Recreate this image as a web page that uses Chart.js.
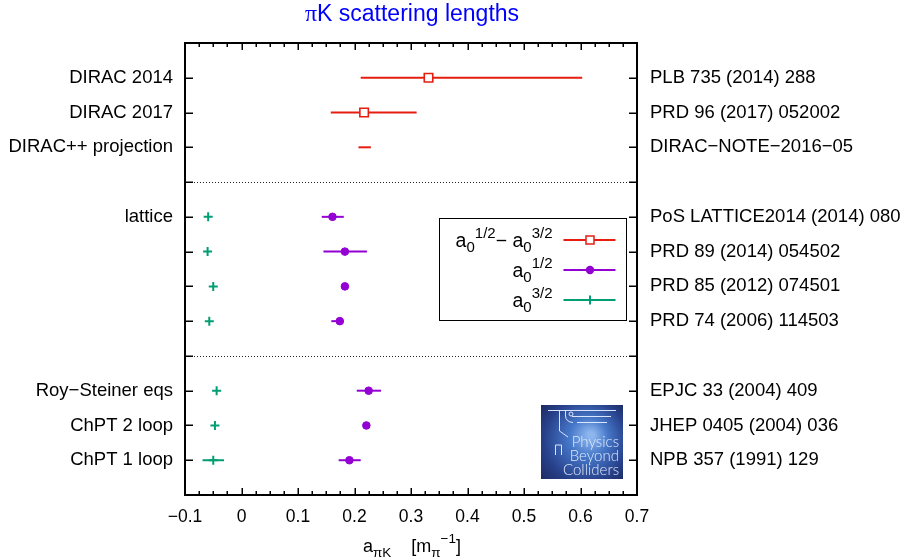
<!DOCTYPE html>
<html>
<head>
<meta charset="utf-8">
<script src="https://cdn.jsdelivr.net/npm/chart.js@4.4.1/dist/chart.umd.min.js"></script>
<style>
  html, body { margin: 0; padding: 0; background: #fff; }
  canvas { display: block; }
</style>
</head>
<body>
<canvas id="chart" width="909" height="560"></canvas>
<script>
// ==================== DATA ====================
const xTickValues = [-0.1, 0, 0.1, 0.2, 0.3, 0.4, 0.5, 0.6, 0.7];
const rowTicks = [1, 2, 3, 4, 5, 6, 7, 8, 9, 10, 11, 12];
const separatorRows = [4, 9];

const labelRows = [1, 2, 3, 5, 6, 7, 8, 10, 11, 12];
const leftLabels = ["DIRAC 2014", "DIRAC 2017", "DIRAC++ projection", "lattice", "", "", "",
                    "Roy\u2212Steiner eqs", "ChPT 2 loop", "ChPT 1 loop"];
const rightLabels = ["PLB 735 (2014) 288", "PRD 96 (2017) 052002", "DIRAC\u2212NOTE\u22122016\u221205",
                     "PoS LATTICE2014 (2014) 080", "PRD 89 (2014) 054502", "PRD 85 (2012) 074501",
                     "PRD 74 (2006) 114503", "EPJC 33 (2004) 409", "JHEP 0405 (2004) 036",
                     "NPB 357 (1991) 129"];

// a0^1/2 - a0^3/2 (DIRAC)
const diffRows = [1, 2, 3];
const diffVal = [0.331, 0.217, 0.218];
const diffLo = [0.211, 0.158, 0.207];
const diffHi = [0.603, 0.310, 0.229];
const diffMarker = [true, true, false];

// a0^1/2
const halfRows = [5, 6, 7, 8, 10, 11, 12];
const halfVal = [0.161, 0.183, 0.183, 0.174, 0.225, 0.221, 0.191];
const halfLo = [0.142, 0.145, 0.183, 0.159, 0.204, 0.221, 0.172];
const halfHi = [0.181, 0.222, 0.183, 0.178, 0.247, 0.221, 0.211];

// a0^3/2
const threeRows = [5, 6, 7, 8, 10, 11, 12];
const threeVal = [-0.059, -0.060, -0.050, -0.057, -0.044, -0.047, -0.050];
const threeLo = [-0.059, -0.060, -0.050, -0.057, -0.044, -0.047, -0.069];
const threeHi = [-0.059, -0.060, -0.050, -0.057, -0.044, -0.047, -0.031];

const RED = "#e51e10";
const PURPLE = "#9400d3";
const GREEN = "#009e73";
const FONT = "'Liberation Sans', Arial, Helvetica, sans-serif";

const series = [
    { rows: diffRows, val: diffVal, lo: diffLo, hi: diffHi, color: RED },
    { rows: halfRows, val: halfVal, lo: halfLo, hi: halfHi, color: PURPLE },
    { rows: threeRows, val: threeVal, lo: threeLo, hi: threeHi, color: GREEN },
];

// ==================== HELPERS ====================
function fmtTick(v) {
    const r = Math.round(v * 10) / 10;
    if (r === 0) return "0";
    return r < 0 ? "\u2212" + Math.abs(r) : String(r);
}

function rowLabel(list, value) {
    const i = labelRows.indexOf(Math.round(value));
    return i >= 0 ? list[i] : "";
}

// segs: [{t, size, dy, family}]
function richWidth(ctx, segs) {
    let w = 0;
    for (const s of segs) {
        ctx.font = `${s.size}px ${s.family || FONT}`;
        w += ctx.measureText(s.t).width;
    }
    return w;
}

function drawRich(ctx, segs, left, base, align) {
    const w = richWidth(ctx, segs);
    if (align === "right") left -= w;
    if (align === "center") left -= w / 2;
    ctx.textAlign = "left";
    ctx.textBaseline = "alphabetic";
    for (const s of segs) {
        ctx.font = `${s.size}px ${s.family || FONT}`;
        ctx.fillText(s.t, left, base + (s.dy || 0));
        left += ctx.measureText(s.t).width;
    }
}

// ==================== PLUGINS ====================
const errorBars = {
    id: "errorBars",
    beforeDatasetsDraw(chart) {
        const ctx = chart.ctx;
        const a = chart.chartArea;
        const xs = chart.scales.x;
        const ys = chart.scales.y;
        ctx.save();
        // dotted separators
        ctx.strokeStyle = "#222";
        ctx.lineWidth = 1;
        ctx.setLineDash([1, 2]);
        for (const r of separatorRows) {
            const py = Math.round(ys.getPixelForValue(r)) + 0.5;
            ctx.beginPath();
            ctx.moveTo(a.left, py);
            ctx.lineTo(a.right, py);
            ctx.stroke();
        }
        ctx.setLineDash([]);
        // horizontal error bars
        ctx.lineWidth = 2;
        for (const s of series) {
            ctx.strokeStyle = s.color;
            s.rows.forEach((r, i) => {
                if (s.hi[i] <= s.lo[i]) return;
                const py = ys.getPixelForValue(r);
                ctx.beginPath();
                ctx.moveTo(xs.getPixelForValue(s.lo[i]), py);
                ctx.lineTo(xs.getPixelForValue(s.hi[i]), py);
                ctx.stroke();
            });
        }
        ctx.restore();
    },
};

const borderTicks = {
    id: "borderTicks",
    afterDraw(chart) {
        const ctx = chart.ctx;
        const a = chart.chartArea;
        const xs = chart.scales.x;
        const ys = chart.scales.y;
        ctx.save();
        ctx.globalAlpha = 1;
        ctx.fillStyle = "#000000";

        // x ticks (major + 3 minor), bottom and top, as 1px filled bars
        for (let i = 0; i < xTickValues.length; i++) {
            const px = Math.round(xs.getPixelForValue(xTickValues[i]));
            ctx.fillRect(px - 0.5, a.bottom - 7, 1.5, 7);
            ctx.fillRect(px - 0.5, a.top, 1.5, 7);
            if (i < xTickValues.length - 1) {
                const step = (xTickValues[i + 1] - xTickValues[i]) / 4;
                for (let k = 1; k < 4; k++) {
                    const pm = Math.round(xs.getPixelForValue(xTickValues[i] + k * step));
                    ctx.fillRect(pm - 0.5, a.bottom - 4, 1.5, 4);
                    ctx.fillRect(pm - 0.5, a.top, 1.5, 4);
                }
            }
        }

        // y ticks, left and right
        for (const r of rowTicks) {
            const py = Math.round(ys.getPixelForValue(r));
            ctx.fillRect(a.left, py - 0.5, 8, 1.5);
            ctx.fillRect(a.right - 8, py - 0.5, 8, 1.5);
        }

        // border
        ctx.strokeStyle = "#000000";
        ctx.setLineDash([]);
        ctx.lineWidth = 2;
        ctx.strokeRect(a.left, a.top, a.right - a.left, a.bottom - a.top);
        ctx.restore();
    },
};

const decorations = {
    id: "decorations",
    afterDraw(chart) {
        const ctx = chart.ctx;
        const a = chart.chartArea;
        ctx.save();

        // title
        ctx.fillStyle = "#0000ff";
        drawRich(ctx, [
            { t: "\u03c0", size: 24, family: "'Liberation Serif', serif" },
            { t: "K scattering lengths", size: 23 },
        ], (a.left + a.right) / 2 + 1, 20.5, "center");

        // x axis title
        ctx.fillStyle = "#000";
        drawRich(ctx, [
            { t: "a", size: 18 },
            { t: "\u03c0K", size: 13.5, dy: 5.5 },
            { t: "    [m", size: 18 },
            { t: "\u03c0", size: 13.5, dy: 5.5 },
            { t: "\u22121", size: 13.5, dy: -9 },
            { t: "]", size: 18 },
        ], (a.left + a.right) / 2 + 1, 551.5, "center");

        // legend
        const lg = { left: 439.5, top: 218.5, right: 626.5, bottom: 320.5 };
        ctx.fillStyle = "#fff";
        ctx.fillRect(lg.left, lg.top, lg.right - lg.left, lg.bottom - lg.top);
        ctx.strokeStyle = "#000";
        ctx.lineWidth = 1;
        ctx.strokeRect(lg.left, lg.top, lg.right - lg.left, lg.bottom - lg.top);
        const legendRows = [
            { y: 240, color: RED, style: "rect", segs: [
                { t: "a", size: 19.5 }, { t: "0", size: 15, dy: 5 }, { t: "1/2", size: 15, dy: -8.5 },
                { t: "\u2212 a", size: 19.5 }, { t: "0", size: 15, dy: 5 }, { t: "3/2", size: 15, dy: -8.5 }] },
            { y: 270, color: PURPLE, style: "circle", segs: [
                { t: "a", size: 19.5 }, { t: "0", size: 15, dy: 5 }, { t: "1/2", size: 15, dy: -8.5 }] },
            { y: 300, color: GREEN, style: "cross", segs: [
                { t: "a", size: 19.5 }, { t: "0", size: 15, dy: 5 }, { t: "3/2", size: 15, dy: -8.5 }] },
        ];
        for (const row of legendRows) {
            ctx.fillStyle = "#000";
            drawRich(ctx, row.segs, 552.5, row.y + 6.5, "right");
            ctx.strokeStyle = row.color;
            ctx.lineWidth = 2;
            ctx.beginPath();
            ctx.moveTo(563.5, row.y);
            ctx.lineTo(615.5, row.y);
            ctx.stroke();
            if (row.style === "rect") {
                ctx.fillStyle = "#fff";
                ctx.lineWidth = 1.5;
                ctx.fillRect(586, row.y - 4, 8, 8);
                ctx.strokeRect(586, row.y - 4, 8, 8);
            } else if (row.style === "circle") {
                ctx.fillStyle = row.color;
                ctx.beginPath();
                ctx.arc(590, row.y, 4.2, 0, Math.PI * 2);
                ctx.fill();
            } else {
                ctx.beginPath();
                ctx.moveTo(590, row.y - 4.5);
                ctx.lineTo(590, row.y + 4.5);
                ctx.stroke();
            }
        }

        // Physics Beyond Colliders logo
        const lx = 541, ly = 405, lw = 82, lh = 74;
        const grad = ctx.createRadialGradient(lx + 50, ly + 30, 3, lx + 42, ly + 38, 58);
        grad.addColorStop(0, "#8cb6ee");
        grad.addColorStop(0.3, "#4677c8");
        grad.addColorStop(0.7, "#27408a");
        grad.addColorStop(1, "#1b285c");
        ctx.fillStyle = grad;
        ctx.fillRect(lx, ly, lw, lh);
        ctx.strokeStyle = "rgba(225,236,255,0.95)";
        ctx.lineWidth = 1;
        ctx.beginPath();
        ctx.moveTo(lx + 7, ly + 5.5); ctx.lineTo(lx + 75, ly + 5.5);
        ctx.moveTo(lx + 31, ly + 11.5); ctx.lineTo(lx + 70, ly + 11.5);
        ctx.moveTo(lx + 36, ly + 17.5); ctx.lineTo(lx + 66, ly + 17.5);
        ctx.moveTo(lx + 18.5, ly + 5.5); ctx.lineTo(lx + 18.5, ly + 26);
        ctx.moveTo(lx + 24.5, ly + 5.5); ctx.lineTo(lx + 24.5, ly + 11);
        ctx.quadraticCurveTo(lx + 25, ly + 17, lx + 32, ly + 17.5);
        ctx.moveTo(lx + 18.5, ly + 26); ctx.lineTo(lx + 27, ly + 32);
        ctx.moveTo(lx + 14.5, ly + 40); ctx.lineTo(lx + 14.5, ly + 50);
        ctx.moveTo(lx + 14.5, ly + 40); ctx.lineTo(lx + 20.5, ly + 40); ctx.lineTo(lx + 20.5, ly + 50);
        ctx.stroke();
        ctx.beginPath();
        ctx.arc(lx + 30, ly + 9, 2, 0, Math.PI * 2);
        ctx.stroke();
        ctx.fillStyle = "rgba(232,240,255,0.95)";
        ctx.textAlign = "right";
        ctx.textBaseline = "alphabetic";
        ctx.font = "300 15px Lato, 'Open Sans', sans-serif";
        ctx.fillText("Physics", lx + 78, ly + 42);
        ctx.fillText("Beyond", lx + 78, ly + 56);
        ctx.fillText("Colliders", lx + 78, ly + 70);

        ctx.restore();
    },
};

// ==================== CHART ====================
const datasets = [
    {
        label: "a0^1/2 - a0^3/2",
        data: diffRows.map((r, i) => ({ x: diffVal[i], y: r })),
        pointStyle: "rect",
        pointRadius: diffMarker.map(m => (m ? 6 : 0)),
        borderColor: RED,
        backgroundColor: "#ffffff",
        borderWidth: 1.6,
    },
    {
        label: "a0^1/2",
        data: halfRows.map((r, i) => ({ x: halfVal[i], y: r })),
        pointStyle: "circle",
        pointRadius: 3.8,
        borderColor: PURPLE,
        backgroundColor: PURPLE,
        borderWidth: 1,
    },
    {
        label: "a0^3/2",
        data: threeRows.map((r, i) => ({ x: threeVal[i], y: r })),
        pointStyle: "cross",
        pointRadius: 4.5,
        borderColor: GREEN,
        backgroundColor: GREEN,
        borderWidth: 2,
    },
];

const yAxis = (position, list, pad, width) => ({
    type: "linear",
    position,
    min: 0,
    max: 13,
    reverse: true,
    afterBuildTicks: (scale) => { scale.ticks = rowTicks.map(v => ({ value: v })); },
    afterFit: (scale) => { scale.width = width; },
    grid: { display: false, drawTicks: false },
    border: { display: false },
    ticks: {
        autoSkip: false,
        padding: pad,
        color: "#000",
        font: { family: FONT, size: 18.5 },
        callback: (v) => rowLabel(list, v),
    },
});

new Chart(document.getElementById("chart"), {
    type: "scatter",
    data: { datasets },
    options: {
        responsive: false,
        animation: false,
        events: [],
        layout: { padding: { top: 43, left: 0, right: 0, bottom: 0 } },
        plugins: {
            legend: { display: false },
            tooltip: { enabled: false },
            title: { display: false },
        },
        scales: {
            x: {
                type: "linear",
                position: "bottom",
                min: -0.1,
                max: 0.7,
                afterBuildTicks: (scale) => { scale.ticks = xTickValues.map(v => ({ value: v })); },
                afterFit: (scale) => { scale.height = 65; },
                grid: { display: false, drawTicks: false },
                border: { display: false },
                ticks: {
                    autoSkip: false,
                    maxRotation: 0,
                    padding: 12,
                    color: "#000",
                    font: { family: FONT, size: 17.5 },
                    callback: (v) => fmtTick(v),
                },
            },
            y: yAxis("left", leftLabels, 12, 185),
            y2: yAxis("right", rightLabels, 13, 272),
        },
    },
    plugins: [errorBars, borderTicks, decorations],
});
</script>
</body>
</html>
